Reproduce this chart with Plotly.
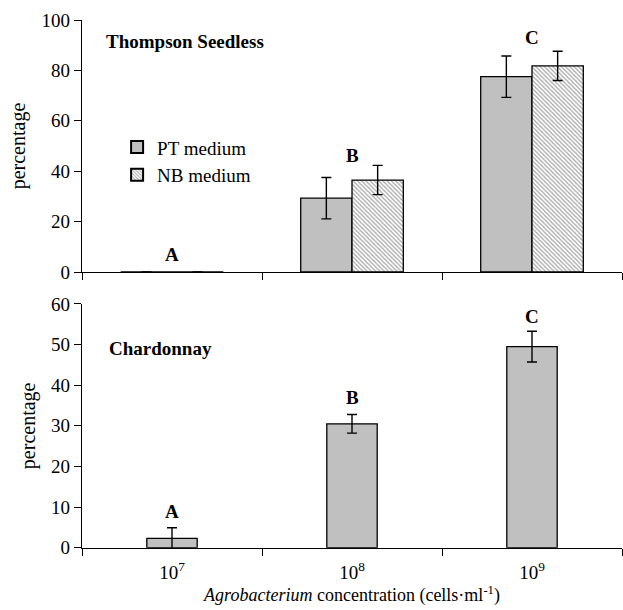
import plotly.graph_objects as go
from plotly.subplots import make_subplots

categories = ["10<sup>7</sup>", "10<sup>8</sup>", "10<sup>9</sup>"]
ts_pt = [0, 29.3, 77.5]
ts_pt_err = [0, 8.2, 8.2]
ts_nb = [0, 36.5, 81.8]
ts_nb_err = [0, 5.8, 5.8]
ch_pt = [2.3, 30.5, 49.5]
ch_pt_err = [2.6, 2.3, 3.8]
ts_letters = ["A", "B", "C"]
ts_letter_y = [6.8, 46.4, 92.9]
ch_letters = ["A", "B", "C"]
ch_letter_y = [8.8, 36.9, 56.8]

FONT = "Liberation Serif, Times New Roman, serif"
GRAY = "#c0c0c0"

fig = make_subplots(rows=2, cols=1, shared_xaxes=False, vertical_spacing=0.05)

fig.add_trace(go.Bar(
    x=categories, y=ts_pt, name="PT medium", width=0.285, offset=-0.285,
    marker=dict(color=GRAY, line=dict(color="black", width=1.3)),
    error_y=dict(type="data", array=ts_pt_err, color="black", thickness=1.4, width=5),
), row=1, col=1)
fig.add_trace(go.Bar(
    x=categories, y=ts_nb, name="NB medium", width=0.285, offset=0,
    marker=dict(color="white", line=dict(color="black", width=1.3),
                pattern=dict(shape="\\", size=3, solidity=0.4, fgcolor="#4a4a4a", bgcolor="white")),
    error_y=dict(type="data", array=ts_nb_err, color="black", thickness=1.4, width=5),
), row=1, col=1)
fig.add_trace(go.Bar(
    x=categories, y=ch_pt, name="PT medium", width=0.28, offset=-0.14, showlegend=False,
    marker=dict(color=GRAY, line=dict(color="black", width=1.3)),
    error_y=dict(type="data", array=ch_pt_err, color="black", thickness=1.4, width=5),
), row=2, col=1)

annotations = []
for i, c in enumerate(categories):
    annotations.append(dict(x=c, y=ts_letter_y[i], xref="x", yref="y", text="<b>%s</b>" % ts_letters[i],
                            showarrow=False, yanchor="middle",
                            font=dict(family=FONT, size=19, color="black")))
    annotations.append(dict(x=c, y=ch_letter_y[i], xref="x2", yref="y2",
                            text="<b>%s</b>" % ch_letters[i],
                            showarrow=False, yanchor="middle",
                            font=dict(family=FONT, size=19, color="black")))
annotations.append(dict(x=0.04, y=0.942, xref="paper", yref="paper", xanchor="left", yanchor="middle",
                        text="<b>Thompson Seedless</b>", showarrow=False,
                        font=dict(family=FONT, size=19, color="black")))
annotations.append(dict(x=0.046, y=0.384, xref="paper", yref="paper", xanchor="left", yanchor="middle",
                        text="<b>Chardonnay</b>", showarrow=False,
                        font=dict(family=FONT, size=19, color="black")))

fig.update_layout(
    width=623, height=610,
    margin=dict(l=82, r=1, t=10, b=50),
    plot_bgcolor="white", paper_bgcolor="white",
    font=dict(family=FONT, size=19, color="black"),
    barmode="group",
    showlegend=True,
    legend=dict(x=0.065, y=0.785, xanchor="left", yanchor="top", bgcolor="rgba(0,0,0,0)",
                font=dict(family=FONT, size=19), tracegroupgap=0, itemsizing="constant"),
    annotations=annotations,
)

xcommon = dict(type="category", showline=True, linecolor="black", linewidth=1.3,
               ticks="outside", tickson="boundaries", ticklen=7, tickcolor="black",
               showgrid=False, zeroline=False)
fig.update_xaxes(**xcommon)
fig.update_xaxes(showticklabels=False, row=1, col=1)
fig.update_xaxes(tickfont=dict(family=FONT, size=19), ticklabelstandoff=7,
                 title=dict(text="<i>Agrobacterium</i> concentration (cells·ml<sup>-1</sup>)",
                            font=dict(family=FONT, size=18), standoff=0),
                 row=2, col=1)

ycommon = dict(showline=True, linecolor="black", linewidth=1.3, ticks="outside", ticklen=7,
               tickcolor="black", showgrid=False, zeroline=False,
               tickfont=dict(family=FONT, size=19),
               title=dict(text="percentage", font=dict(family=FONT, size=20), standoff=10))
fig.update_yaxes(**ycommon)
fig.update_yaxes(range=[0, 100], tickvals=[0, 20, 40, 60, 80, 100], domain=[0.5236, 0.9818], row=1, col=1)
fig.update_yaxes(range=[0, 60], tickvals=[0, 10, 20, 30, 40, 50, 60], domain=[0.0224, 0.4655], row=2, col=1)

fig.write_html("out.html")
